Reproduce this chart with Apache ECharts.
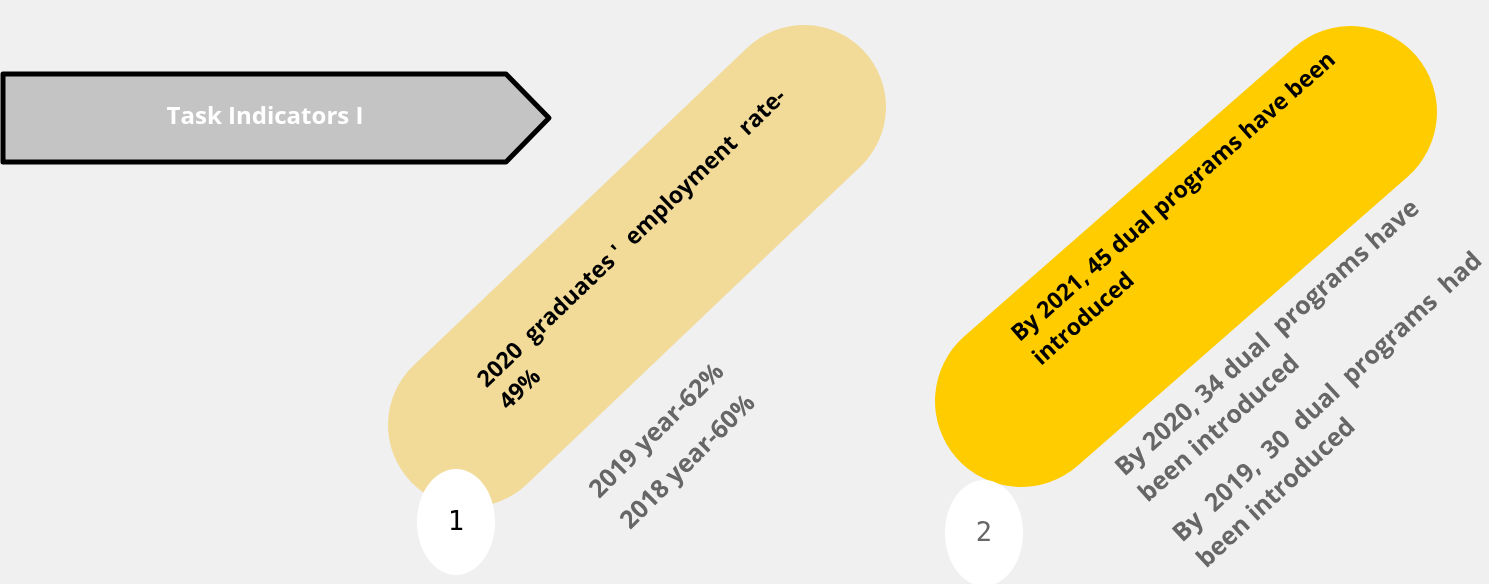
<!DOCTYPE html>
<html>
<head>
<meta charset="utf-8">
<title>Task Indicators I</title>
<script src="https://cdn.jsdelivr.net/npm/echarts@6/dist/echarts.min.js"></script>
<style>
  html, body { margin: 0; padding: 0; background: #f0f0f0; }
  #chart { width: 1489px; height: 584px; }
</style>
</head>
<body>
<div id="chart"></div>
<script>
// text content of the infographic
const bannerTitle = 'Task Indicators I';
const itemNumbers = ['1', '2'];
const mainLines1 = ['2020  graduates \'  employment  rate-', '49%'];
const subLines1 = ['2019 year-62%', '2018 year-60%'];
const mainLines2 = ['By 2021, 45 dual programs have been', 'introduced'];
const subLines2a = ['By 2020, 34 dual  programs have', 'been introduced'];
const subLines2b = ['By  2019,  30  dual  programs  had', 'been introduced'];

const FONT = '"Open Sans", "Noto Sans", sans-serif';
const deg = Math.PI / 180;

const chart = echarts.init(document.getElementById('chart'));

// pill drawn between two cap centres
const pill = (x1, y1, x2, y2, r, color) => {
  const dx = x2 - x1, dy = y1 - y2;
  const len = Math.sqrt(dx * dx + dy * dy);
  return {
    type: 'rect',
    x: (x1 + x2) / 2,
    y: (y1 + y2) / 2,
    rotation: Math.atan2(dy, dx),
    shape: { x: -len / 2 - r, y: -r, width: len + 2 * r, height: 2 * r, r: r },
    style: { fill: color },
    z: 1
  };
};

// rotated block of text lines, (x, y) is left end of first baseline
const textBlock = (x, y, angle, lines, color, size, lineH) => ({
  type: 'group',
  x: x,
  y: y,
  rotation: angle * deg,
  children: lines.map((t, i) => ({
    type: 'text',
    x: 0,
    y: i * lineH,
    z: 5,
    style: {
      text: t,
      fill: color,
      font: 'bold ' + size + 'px ' + FONT,
      textAlign: 'left',
      textVerticalAlign: 'bottom'
    }
  }))
});

const badge = (cx, cy, label, color) => ({
  type: 'group',
  children: [
    { type: 'ellipse', z: 8, shape: { cx: cx, cy: cy, rx: 39, ry: 53 }, style: { fill: '#ffffff' } },
    {
      type: 'text', x: cx, y: cy + 1, z: 9,
      style: { text: label, fill: color, font: '27px "DejaVu Sans Mono", monospace', textAlign: 'center', textVerticalAlign: 'middle' }
    }
  ]
});

const option = {
  backgroundColor: '#f0f0f0',
  graphic: [
    {
      type: 'polygon',
      shape: { points: [[3, 74], [506, 74], [549, 118], [506, 162], [3, 162]] },
      style: { fill: '#c4c4c4', stroke: '#000000', lineWidth: 5, lineJoin: 'round' },
      z: 1
    },
    {
      type: 'text', x: 265, y: 117, z: 2,
      style: { text: bannerTitle, fill: '#ffffff', font: 'bold 24px ' + FONT, textAlign: 'center', textVerticalAlign: 'middle' }
    },
    pill(470, 425, 804, 107, 82, '#f2db99'),
    pill(1021, 401, 1351, 112, 86, '#ffcc00'),
    textBlock(490, 392, 44, mainLines1, '#000000', 23, 31),
    textBlock(603, 503, 45, subLines1, '#666666', 25, 44),
    textBlock(1023, 346, 41.5, mainLines2, '#000000', 23, 32),
    textBlock(1128, 481, 42, subLines2a, '#666666', 25, 35),
    textBlock(1186, 547, 43, subLines2b, '#666666', 25, 35),
    badge(456, 522, itemNumbers[0], '#000000'),
    badge(984, 533, itemNumbers[1], '#666666')
  ]
};

chart.setOption(option);
window.addEventListener('resize', () => chart.resize());
</script>
</body>
</html>
